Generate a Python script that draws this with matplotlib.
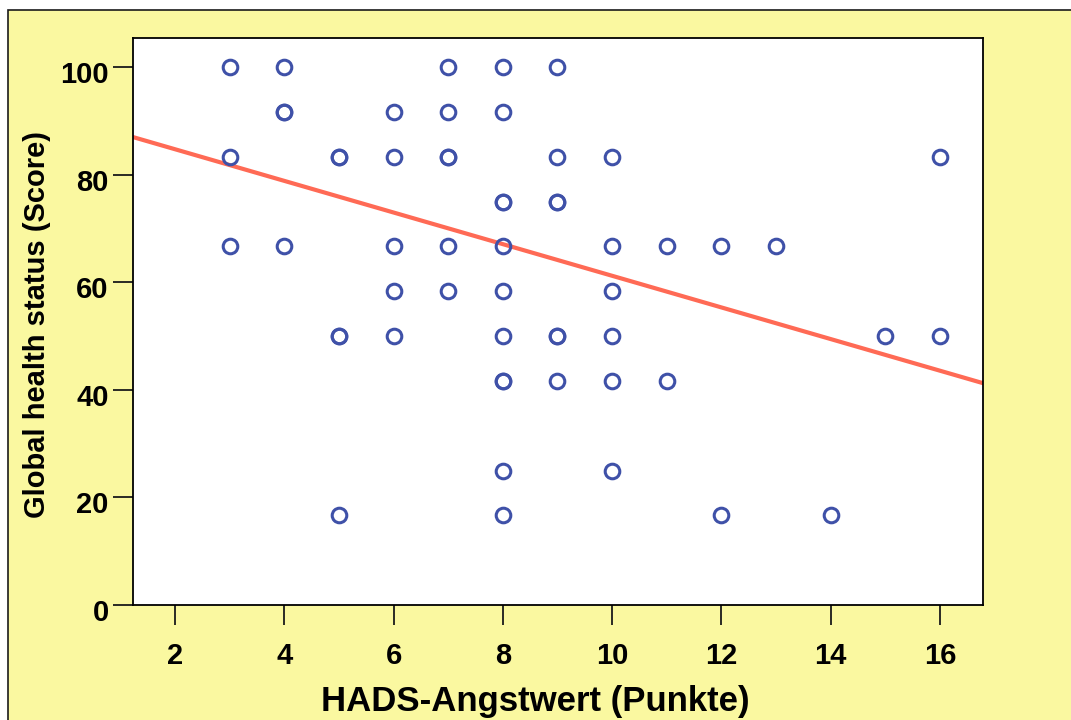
import numpy as np
import matplotlib
matplotlib.use('Agg')
import matplotlib.pyplot as plt
from matplotlib.patches import Rectangle
import matplotlib.transforms as mtrans

plt.rcParams['font.family'] = ['Liberation Sans', 'DejaVu Sans']
plt.rcParams['font.weight'] = 'bold'

#----- data (HADS anxiety vs. global health status)
hads = [3, 3, 3,
        4, 4, 4, 4,
        5, 5, 5, 5, 5,
        6, 6, 6, 6, 6,
        7, 7, 7, 7, 7, 7,
        8, 8, 8, 8, 8, 8, 8, 8, 8, 8, 8,
        9, 9, 9, 9, 9, 9, 9,
        10, 10, 10, 10, 10, 10,
        11, 11,
        12, 12,
        13,
        14,
        15,
        16, 16]
score = [100, 83.33, 66.67,
         100, 91.67, 91.67, 66.67,
         83.33, 83.33, 50, 50, 16.67,
         91.67, 83.33, 66.67, 58.33, 50,
         100, 91.67, 83.33, 83.33, 66.67, 58.33,
         100, 91.67, 75, 75, 66.67, 58.33, 50, 41.67, 41.67, 25, 16.67,
         100, 83.33, 75, 75, 50, 50, 41.67,
         83.33, 66.67, 58.33, 50, 41.67, 25,
         66.67, 41.67,
         66.67, 16.67,
         66.67,
         16.67,
         50,
         83.33, 50]
fit_intercept = 90.6
fit_slope = -2.94

x_ticks = [2, 4, 6, 8, 10, 12, 14, 16]
y_ticks = [0, 20, 40, 60, 80, 100]

#----- figure
fig = plt.figure(figsize=(10.71, 7.2), dpi=100)
fig.patch.set_facecolor('white')
fig.patches.append(Rectangle((8/1071, -0.05), 1.1, 1 - 10/720 + 0.05,
                             transform=fig.transFigure, facecolor='#FAF8A0',
                             edgecolor='#1a1a1a', lw=1.2, zorder=-10))

ax = fig.add_axes([133/1071, 1 - 605/720, 850/1071, 567/720])
ax.set_facecolor('white')

xx = np.array([1.0, 17.0])
ax.plot(xx, fit_intercept + fit_slope * xx, color='#FF6A55', lw=3, zorder=2)
ax.plot(hads, score, 'o', ms=10.5, mfc='none', mec='#3F51A8', mew=2.2, zorder=3)

ax.set_xlim(1.23, 16.79)
ax.set_ylim(0, 105.4)
ax.set_xticks(x_ticks)
ax.set_yticks(y_ticks)
ax.tick_params(axis='both', direction='out', length=14.5, width=1.3,
               labelsize=21, color='#1a1a1a')
ax.tick_params(axis='x', pad=12)
ax.tick_params(axis='y', pad=3)
for lab in ax.get_yticklabels():
    lab.set_transform(lab.get_transform() +
                      mtrans.ScaledTranslation(0, -5/100, fig.dpi_scale_trans))
for sp in ax.spines.values():
    sp.set_linewidth(1.3)

fig.text(535/1071, 1 - 702/720, 'HADS-Angstwert (Punkte)', fontsize=25,
         fontweight='bold', ha='center', va='center')
fig.text(37/1071, 1 - 324/720, 'Global health status (Score)', fontsize=21,
         fontweight='bold', ha='center', va='center', rotation=90)

plt.savefig('out.png', dpi=100)
